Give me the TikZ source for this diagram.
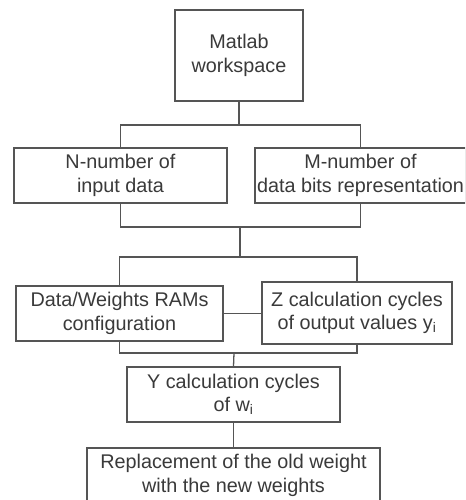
\documentclass[tikz,border=0pt]{standalone}
\usepackage{fontspec}
\setmainfont{Liberation Sans}
\definecolor{linegray}{HTML}{555555}
\definecolor{textgray}{HTML}{3A3A3A}
\tikzset{
  box/.style={draw=linegray, line width=1.1pt, rectangle, inner sep=0pt,
    align=center, text=textgray, font=\fontsize{16.9}{19.9}\selectfont},
  link/.style={draw=linegray, line width=1.1pt}
}
\begin{document}
\begin{tikzpicture}[x=0.03cm, y=-0.03cm]
            \useasboundingbox (0,0) rectangle (465,500);
            \fill[white] (0,0) rectangle (465,500);
            \clip (0,0) rectangle (465,500);
            \node[box, minimum width=3.84cm, minimum height=2.73cm] (matlab) at (239,55.5) {Matlab\\workspace};
            \node[box, minimum width=6.39cm, minimum height=1.65cm] (ndata) at (120.5,175.5) {N-number of\\input data};
            \node[box, minimum width=6.33cm, minimum height=1.65cm] (mbits) at (360.5,175.5) {M-number of\\data bits representation};
            \node[box, minimum width=6.21cm, minimum height=1.65cm] (ram) at (119.5,313.5) {Data/Weights RAMs\\configuration};
            \node[box, minimum width=5.70cm, minimum height=1.86cm] (zcyc) at (357,313) {Z calculation cycles\\of output values y\textsubscript{i}};
            \node[box, minimum width=6.39cm, minimum height=1.65cm] (ycyc) at (233.5,394.5) {Y calculation cycles\\of w\textsubscript{i}};
            \node[box, minimum width=8.79cm, minimum height=1.65cm] (repl) at (233.5,475.5) {Replacement of the old weight\\with the new weights};
            \coordinate (j1) at (239,125);
            \coordinate (j2) at (240,227);
            \coordinate (j3) at (240,257);
            \coordinate (j4) at (234,353);
            \draw[link] (matlab.south) -- (j1);
            \draw[link] (ndata.north) |- (j1) -| (mbits.north);
            \draw[link] (ndata.south) |- (j2) -| (mbits.south);
            \draw[link] (j2) -- (j3);
            \draw[link] (ram.north) |- (j3) -| (zcyc.north);
            \draw[link] (ram.east) -- (ram.east -| zcyc.west);
            \draw[link] (ram.south) |- (j4) -| (zcyc.south);
            \draw[link] (j4) -- (ycyc.north);
            \draw[link] (ycyc.south) -- (repl.north);
        \end{tikzpicture}
\end{document}
